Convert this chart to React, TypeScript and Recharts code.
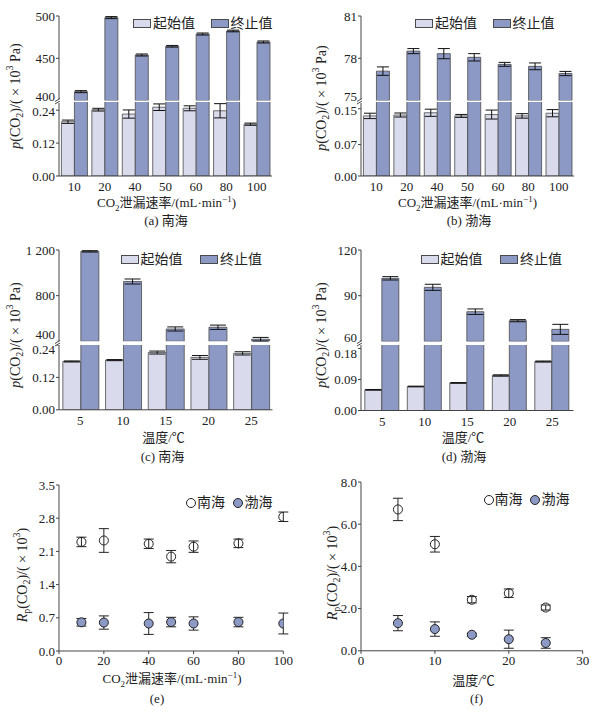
import React from "react";
import { BarChart, Bar, XAxis, YAxis, ErrorBar, ScatterChart, Scatter, ZAxis } from "recharts";

const SERIF = '"Liberation Serif","Noto Sans CJK SC",serif';
const LIGHT = "#d9dbec";
const DARK = "#8d99c5";
const EDGE = "#4a4a4a";
const AXIS = "#444";
const INK = "#222";

// categories
const rateCats = ["10", "20", "40", "50", "60", "80", "100"];
const tempCats = ["5", "10", "15", "20", "25"];

// (a) 南海, leak rate
const aStart = [0.198, 0.242, 0.226, 0.251, 0.247, 0.238, 0.189];
const aStartErr = [0.006, 0.005, 0.015, 0.012, 0.009, 0.026, 0.004];
const aEnd = [410.6, 498.1, 453.9, 464.2, 478.7, 482.3, 469.3];
const aEndErr = [1.2, 1.2, 1.2, 1.0, 1.2, 1.0, 1.2];

// (b) 渤海, leak rate
const bStart = [0.134, 0.136, 0.141, 0.134, 0.137, 0.134, 0.14];
const bStartErr = [0.006, 0.0045, 0.008, 0.0033, 0.01, 0.005, 0.008];
const bEnd = [77.09, 78.51, 78.33, 78.07, 77.57, 77.43, 76.92];
const bEndErr = [0.3, 0.18, 0.36, 0.26, 0.14, 0.24, 0.15];

// (c) 南海, temperature
const cStart = [0.179, 0.184, 0.212, 0.194, 0.209];
const cStartErr = [0.002, 0.002, 0.0055, 0.007, 0.006];
const cEnd = [1188, 924, 508, 523, 418];
const cEndErr = [6, 22, 18, 19, 16];

// (d) 渤海, temperature
const dStart = [0.06, 0.0696, 0.08, 0.1015, 0.142];
const dStartErr = [0.001, 0.001, 0.001, 0.002, 0.0015];
const dEnd = [101.4, 95.5, 79.5, 73.6, 67.9];
const dEndErr = [1.1, 2, 1.8, 0.7, 3.3];

// (e) Rp vs leak rate
const eX = [10, 20, 40, 50, 60, 80, 100];
const eSouth = [2.3, 2.33, 2.26, 1.99, 2.2, 2.27, 2.83];
const eSouthErr = [0.1, 0.25, 0.1, 0.13, 0.12, 0.09, 0.1];
const eBohai = [0.605, 0.6, 0.58, 0.61, 0.58, 0.61, 0.58];
const eBohaiErr = [0.08, 0.14, 0.23, 0.1, 0.14, 0.1, 0.22];

// (f) Rp vs temperature
const fX = [5, 10, 15, 20, 25];
const fSouth = [6.7, 5.05, 2.42, 2.73, 2.05];
const fSouthErr = [0.53, 0.37, 0.15, 0.2, 0.12];
const fBohai = [1.31, 1.03, 0.76, 0.55, 0.37];
const fBohaiErr = [0.36, 0.34, 0.07, 0.43, 0.25];

const fix = (n: number) => (v: number) => v.toFixed(n);

function yTick(fmt: (v: number) => string, shifts: Record<string, number> = {}) {
  return (props: any) => {
    const { x, y, payload } = props;
    const dy = shifts[String(payload.value)] ?? 0;
    return (
      <text x={x} y={y + dy} dy="0.35em" textAnchor="end" fontSize={13} fontFamily={SERIF} fill={INK}>
        {fmt(payload.value)}
      </text>
    );
  };
}

const xTickStyle = { fontSize: 13, fontFamily: SERIF, fill: INK };

type BrokenProps = {
  axisX: number;
  axisEnd: number;
  upTop: number;
  upBottom: number;
  lowTop: number;
  lowBottom: number;
  upDomain: [number, number];
  upTicks: number[];
  upFmt: (v: number) => string;
  lowDomain: [number, number];
  lowTicks: number[];
  lowFmt: (v: number) => string;
  shiftUp: number;
  shiftLow: number;
  cats: string[];
  start: number[];
  startErr: number[];
  end: number[];
  endErr: number[];
  gap: string;
  cap: number;
};

function BrokenBars(p: BrokenProps) {
  const plotW = p.axisEnd - p.axisX;
  const w = 50 + plotW + 5;
  const upper = p.cats.map((c, i) => ({ label: c, start: null, end: p.end[i], endErr: p.endErr[i] }));
  const lower = p.cats.map((c, i) => ({ label: c, start: p.start[i], startErr: p.startErr[i], end: p.end[i] }));
  const breakY = (p.upBottom + p.lowTop) / 2;
  return (
    <>
      <div style={{ position: "absolute", left: p.axisX - 50, top: p.lowTop - 10 }}>
        <BarChart
          width={w}
          height={p.lowBottom - p.lowTop + 40}
          data={lower}
          margin={{ top: 10, right: 5, bottom: 0, left: 0 }}
          barCategoryGap={p.gap}
          barGap={0}
        >
          <XAxis dataKey="label" height={30} tickLine={false} tickSize={3} tickMargin={3} stroke={AXIS} tick={xTickStyle} interval={0} />
          <YAxis
            type="number"
            domain={p.lowDomain}
            ticks={p.lowTicks}
            allowDataOverflow
            width={50}
            tickSize={3}
            tickMargin={1}
            stroke={AXIS}
            interval={0}
            tick={yTick(p.lowFmt, { [String(p.lowTicks[p.lowTicks.length - 1])]: p.shiftLow })}
          />
          <Bar dataKey="start" fill={LIGHT} stroke={EDGE} strokeWidth={0.8} isAnimationActive={false}>
            <ErrorBar dataKey="startErr" width={p.cap} stroke="#111" strokeWidth={1} />
          </Bar>
          <Bar dataKey="end" fill={DARK} stroke={EDGE} strokeWidth={0.8} isAnimationActive={false} />
        </BarChart>
      </div>
      <div style={{ position: "absolute", left: p.axisX - 50, top: p.upTop - 10 }}>
        <BarChart
          width={w}
          height={p.upBottom - p.upTop + 20}
          data={upper}
          margin={{ top: 10, right: 5, bottom: 10, left: 0 }}
          barCategoryGap={p.gap}
          barGap={0}
        >
          <XAxis dataKey="label" hide />
          <YAxis
            type="number"
            domain={p.upDomain}
            ticks={p.upTicks}
            allowDataOverflow
            width={50}
            tickSize={3}
            tickMargin={1}
            stroke={AXIS}
            interval={0}
            tick={yTick(p.upFmt, { [String(p.upTicks[0])]: p.shiftUp })}
          />
          <Bar dataKey="start" fill="none" stroke="none" isAnimationActive={false} />
          <Bar dataKey="end" fill={DARK} stroke={EDGE} strokeWidth={0.8} isAnimationActive={false}>
            <ErrorBar dataKey="endErr" width={p.cap} stroke="#111" strokeWidth={1} />
          </Bar>
        </BarChart>
      </div>
      <svg style={{ position: "absolute", left: p.axisX - 6, top: breakY - 6 }} width={12} height={12}>
        <rect x={3} y={4} width={6} height={4} fill="#fff" />
        <path d="M2 6.5 L7 3.5 M2 9 L7 6" stroke="#333" strokeWidth={0.9} fill="none" />
      </svg>
    </>
  );
}

type ScatterProps = {
  axisX: number;
  xEnd: number;
  yTop: number;
  yBottom: number;
  xDomain: [number, number];
  xTicks: number[];
  yDomain: [number, number];
  yTicks: number[];
  xs: number[];
  south: number[];
  southErr: number[];
  bohai: number[];
  bohaiErr: number[];
};

function ScatterPanel(p: ScatterProps) {
  const plotW = p.xEnd - p.axisX;
  const plotH = p.yBottom - p.yTop;
  const south = p.xs.map((x, i) => ({ x, y: p.south[i], err: p.southErr[i] }));
  const bohai = p.xs.map((x, i) => ({ x, y: p.bohai[i], err: p.bohaiErr[i] }));
  return (
    <div style={{ position: "absolute", left: p.axisX - 50, top: p.yTop - 10 }}>
      <ScatterChart width={50 + plotW + 12} height={plotH + 40} margin={{ top: 10, right: 12, bottom: 0, left: 0 }}>
        <XAxis
          type="number"
          dataKey="x"
          domain={p.xDomain}
          ticks={p.xTicks}
          allowDataOverflow
          height={30}
          tickSize={3}
          tickMargin={2}
          stroke={AXIS}
          tick={xTickStyle}
          interval={0}
        />
        <YAxis
          type="number"
          dataKey="y"
          domain={p.yDomain}
          ticks={p.yTicks}
          allowDataOverflow
          width={50}
          tickSize={3}
          tickMargin={1}
          stroke={AXIS}
          interval={0}
          tick={yTick(fix(1))}
        />
        <ZAxis range={[62, 62]} />
        <Scatter data={south} fill="none" stroke="#222" strokeWidth={1} isAnimationActive={false}>
          <ErrorBar dataKey="err" direction="y" width={5} stroke="#222" strokeWidth={1} />
        </Scatter>
        <Scatter data={bohai} fill={DARK} stroke="#222" strokeWidth={1} isAnimationActive={false}>
          <ErrorBar dataKey="err" direction="y" width={5} stroke="#222" strokeWidth={1} />
        </Scatter>
      </ScatterChart>
    </div>
  );
}

function Label({ x, y, children, size = 13 }: { x: number; y: number; children: React.ReactNode; size?: number }) {
  return (
    <div
      style={{
        position: "absolute",
        left: x,
        top: y,
        transform: "translate(-50%,-50%)",
        whiteSpace: "nowrap",
        fontSize: size,
        lineHeight: 1,
        color: INK,
      }}
    >
      {children}
    </div>
  );
}

// vertical axis title, reads bottom to top
function VLabel({ x, y, children }: { x: number; y: number; children: React.ReactNode }) {
  return (
    <div
      style={{
        position: "absolute",
        left: x,
        top: y,
        transform: "translate(-50%,-50%) rotate(180deg)",
        writingMode: "vertical-rl",
        whiteSpace: "nowrap",
        fontSize: 14,
        lineHeight: 1,
        color: INK,
      }}
    >
      {children}
    </div>
  );
}

function BarLegend({ x1, x2, y }: { x1: number; x2: number; y: number }) {
  const box = (left: number, fill: string) => (
    <div style={{ position: "absolute", left, top: y - 5, width: 18, height: 9, background: fill, border: `1px solid ${EDGE}`, boxSizing: "border-box" }} />
  );
  const txt = (left: number, s: string) => (
    <div style={{ position: "absolute", left, top: y - 8, fontSize: 14, lineHeight: "16px", whiteSpace: "nowrap", color: INK }}>{s}</div>
  );
  return (
    <>
      {box(x1, LIGHT)}
      {txt(x1 + 20, "起始值")}
      {box(x2, DARK)}
      {txt(x2 + 20, "终止值")}
    </>
  );
}

function DotLegend({ x1, x2, y }: { x1: number; x2: number; y: number }) {
  const dot = (cx: number, fill: string) => (
    <div
      style={{
        position: "absolute",
        left: cx - 5,
        top: y - 5,
        width: 10,
        height: 10,
        borderRadius: "50%",
        background: fill,
        border: "1px solid #222",
        boxSizing: "border-box",
      }}
    />
  );
  const txt = (left: number, s: string) => (
    <div style={{ position: "absolute", left, top: y - 8, fontSize: 14, lineHeight: "16px", whiteSpace: "nowrap", color: INK }}>{s}</div>
  );
  return (
    <>
      {dot(x1, "#fff")}
      {txt(x1 + 6, "南海")}
      {dot(x2, DARK)}
      {txt(x2 + 7, "渤海")}
    </>
  );
}

const subS = { fontSize: 10 };
const pTitle = (
  <span>
    <i>p</i>(CO<sub style={subS}>2</sub>)/(×10<sup style={subS}>3</sup> Pa)
  </span>
);
const rTitle = (
  <span>
    <i>R</i>
    <sub style={subS}>p</sub>(CO<sub style={subS}>2</sub>)/(×10<sup style={subS}>3</sup>)
  </span>
);
const rateTitle = (
  <span>
    CO<sub style={{ fontSize: 9 }}>2</sub>泄漏速率/(mL·min<sup style={{ fontSize: 9 }}>−1</sup>)
  </span>
);

export default function App() {
  return (
    <div style={{ position: "absolute", left: 0, top: 0, width: 603, height: 717, background: "#fff", fontFamily: SERIF, overflow: "hidden" }}>
      {/* (a) */}
      <BrokenBars
        axisX={59}
        axisEnd={272}
        upTop={15.7}
        upBottom={100.3}
        lowTop={102}
        lowBottom={176}
        upDomain={[400, 500]}
        upTicks={[400, 450, 500]}
        upFmt={fix(0)}
        lowDomain={[0, 0.27]}
        lowTicks={[0, 0.12, 0.24]}
        lowFmt={fix(2)}
        shiftUp={-4}
        shiftLow={1}
        cats={rateCats}
        start={aStart}
        startErr={aStartErr}
        end={aEnd}
        endErr={aEndErr}
        gap="8%"
        cap={6}
      />
      <BarLegend x1={133} x2={210.5} y={23.5} />
      <VLabel x={15} y={96}>{pTitle}</VLabel>
      <Label x={166.5} y={204}>{rateTitle}</Label>
      <Label x={166} y={220}>(a) 南海</Label>

      {/* (b) */}
      <BrokenBars
        axisX={361}
        axisEnd={574}
        upTop={15.7}
        upBottom={100.3}
        lowTop={102}
        lowBottom={176}
        upDomain={[75, 81]}
        upTicks={[75, 78, 81]}
        upFmt={fix(0)}
        lowDomain={[0, 0.165]}
        lowTicks={[0, 0.07, 0.15]}
        lowFmt={fix(2)}
        shiftUp={-4}
        shiftLow={2}
        cats={rateCats}
        start={bStart}
        startErr={bStartErr}
        end={bEnd}
        endErr={bEndErr}
        gap="8%"
        cap={6}
      />
      <BarLegend x1={415} x2={492.5} y={23.5} />
      <VLabel x={321} y={98}>{pTitle}</VLabel>
      <Label x={467.5} y={204}>{rateTitle}</Label>
      <Label x={469} y={220}>(b) 渤海</Label>

      {/* (c) */}
      <BrokenBars
        axisX={59}
        axisEnd={272.5}
        upTop={250}
        upBottom={341.3}
        lowTop={344.5}
        lowBottom={409.3}
        upDomain={[400, 1200]}
        upTicks={[400, 800, 1200]}
        upFmt={(v) => (v >= 1000 ? `${Math.floor(v / 1000)} ${String(v % 1000).padStart(3, "0")}` : String(v))}
        lowDomain={[0, 0.24]}
        lowTicks={[0, 0.12, 0.24]}
        lowFmt={fix(2)}
        shiftUp={-7}
        shiftLow={4}
        cats={tempCats}
        start={cStart}
        startErr={cStartErr}
        end={cEnd}
        endErr={cEndErr}
        gap="9%"
        cap={8}
      />
      <BarLegend x1={120.5} x2={200} y={260} />
      <VLabel x={15} y={335}>{pTitle}</VLabel>
      <Label x={163.5} y={437}>温度/℃</Label>
      <Label x={162.5} y={456}>(c) 南海</Label>

      {/* (d) */}
      <BrokenBars
        axisX={361}
        axisEnd={573.5}
        upTop={250}
        upBottom={341.4}
        lowTop={344.5}
        lowBottom={410}
        upDomain={[60, 120]}
        upTicks={[60, 90, 120]}
        upFmt={fix(0)}
        lowDomain={[0, 0.19]}
        lowTicks={[0, 0.09, 0.18]}
        lowFmt={fix(2)}
        shiftUp={-4}
        shiftLow={5}
        cats={tempCats}
        start={dStart}
        startErr={dStartErr}
        end={dEnd}
        endErr={dEndErr}
        gap="9%"
        cap={8}
      />
      <BarLegend x1={420.5} x2={500} y={260} />
      <VLabel x={321} y={335}>{pTitle}</VLabel>
      <Label x={463} y={437}>温度/℃</Label>
      <Label x={464} y={456}>(d) 渤海</Label>

      {/* (e) */}
      <ScatterPanel
        axisX={59}
        xEnd={283.3}
        yTop={485}
        yBottom={651}
        xDomain={[0, 100]}
        xTicks={[0, 20, 40, 60, 80, 100]}
        yDomain={[0, 3.5]}
        yTicks={[0, 0.7, 1.4, 2.1, 2.8, 3.5]}
        xs={eX}
        south={eSouth}
        southErr={eSouthErr}
        bohai={eBohai}
        bohaiErr={eBohaiErr}
      />
      <DotLegend x1={191} x2={237.5} y={503} />
      <VLabel x={22} y={575}>{rTitle}</VLabel>
      <Label x={172} y={680}>{rateTitle}</Label>
      <Label x={157} y={698}>(e)</Label>

      {/* (f) */}
      <ScatterPanel
        axisX={361}
        xEnd={582.7}
        yTop={482.2}
        yBottom={651}
        xDomain={[0, 30]}
        xTicks={[0, 10, 20, 30]}
        yDomain={[0, 8]}
        yTicks={[0, 2, 4, 6, 8]}
        xs={fX}
        south={fSouth}
        southErr={fSouthErr}
        bohai={fBohai}
        bohaiErr={fBohaiErr}
      />
      <DotLegend x1={488.5} x2={534.5} y={500} />
      <VLabel x={332} y={573}>{rTitle}</VLabel>
      <Label x={473.5} y={680}>温度/℃</Label>
      <Label x={476.5} y={698}>(f)</Label>
    </div>
  );
}
